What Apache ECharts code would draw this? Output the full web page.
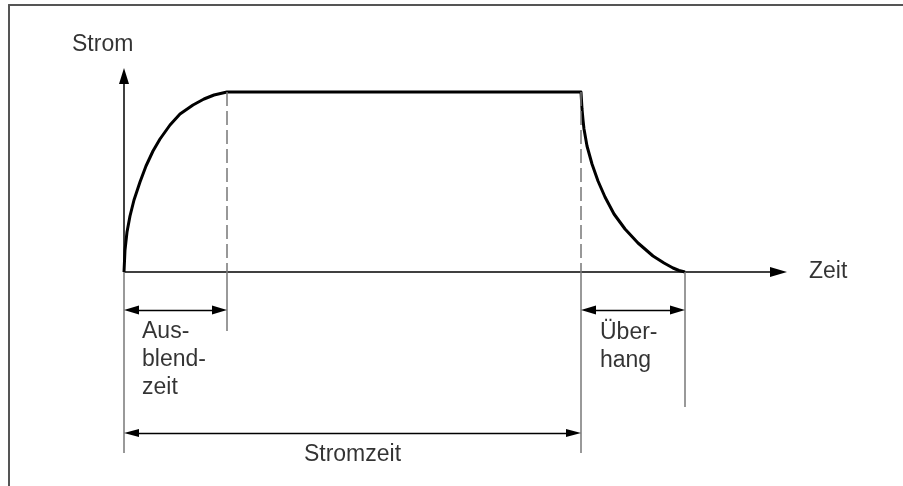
<!DOCTYPE html>
<html>
<head>
<meta charset="utf-8">
<script src="https://cdn.jsdelivr.net/npm/echarts@6/dist/echarts.min.js"></script>
<style>
  html, body { margin: 0; padding: 0; background: #fff; }
  #chart { width: 903px; height: 486px; }
</style>
</head>
<body>
<div id="chart"></div>
<script>
// time / current (schematic units)
var riseT = [0, 1, 3, 6, 10, 16, 22, 29, 36, 46, 56, 69, 80, 90, 103];
var riseI = [0, 22, 40, 56, 72, 90, 106, 121, 133, 147, 158, 167, 173, 177, 180];
var fallT = [457, 458, 459, 460, 463, 468, 474, 481, 490, 501, 514, 529, 540, 549, 555, 561];
var fallI = [180, 163, 152, 143, 126, 108, 91, 75, 58, 43, 29, 16, 9, 4, 1.5, 0];

// events on the time axis
var tStart = 0;
var tBlank = 103;   // Ausblendzeit end
var tOff = 457;     // Stromzeit end
var tEnd = 561;     // Überhang end
var iMax = 180;

var axisEndT = 663;
var axisEndI = 204;

var labelStrom = 'Strom';
var labelZeit = 'Zeit';
var labelBlank = 'Aus-\nblend-\nzeit';
var labelOver = 'Über-\nhang';
var labelTotal = 'Stromzeit';

var curve = [];
for (var i = 0; i < riseT.length; i++) curve.push([riseT[i], riseI[i]]);
for (var j = 0; j < fallT.length; j++) curve.push([fallT[j], fallI[j]]);

var AX = { color: '#000', width: 1.5, type: 'solid' };
var EXT = { color: '#777', width: 1.5, type: 'solid' };
var DASH = { color: '#777', width: 1.5, type: [14, 5] };
var DIM = { color: '#000', width: 1.3, type: 'solid' };
var head = 7.5; // half arrow head length

function seg(x1, y1, x2, y2, style, a1, a2, size) {
  return [
    { coord: [x1, y1], lineStyle: style, symbol: a1 ? 'triangle' : 'none', symbolSize: size || [9, 15] },
    { coord: [x2, y2], symbol: a2 ? 'triangle' : 'none', symbolSize: size || [9, 15] }
  ];
}

var lines = [
  // axes
  seg(tStart, 0, tStart, axisEndI - 8, AX, false, true, [10, 16]),
  seg(tStart, 0, axisEndT - 8.5, 0, AX, false, true, [10, 17]),
  // dashed guides
  seg(tBlank, iMax, tBlank, 0, DASH),
  seg(tOff, iMax, tOff, 0, DASH),
  // extension lines
  seg(tStart, 0, tStart, -181, EXT),
  seg(tBlank, 0, tBlank, -59, EXT),
  seg(tOff, 0, tOff, -181, EXT),
  seg(tEnd, 0, tEnd, -135, EXT),
  // dimension arrows
  seg(tStart + head, -38, tBlank - head, -38, DIM, true, true),
  seg(tOff + head, -38, tEnd - head, -38, DIM, true, true),
  seg(tStart + head, -161, tOff - head, -161, DIM, true, true, [8, 15])
];

var textStyle = {
  show: true,
  position: 'inside',
  formatter: '{b}',
  fontFamily: 'Liberation Sans, Arial, sans-serif',
  fontSize: 23,
  lineHeight: 28,
  color: '#000',
  verticalAlign: 'middle'
};

var myChart = echarts.init(document.getElementById('chart'));

var option = {
  animation: false,
  grid: { left: 9, top: 5, right: 0, bottom: 0 },
  xAxis: {
    type: 'value',
    position: 'top',
    min: -115,
    max: 779,
    axisLine: { show: true, onZero: false, lineStyle: { color: '#555', width: 2 } },
    axisTick: { show: false },
    axisLabel: { show: false },
    splitLine: { show: false }
  },
  yAxis: {
    type: 'value',
    position: 'left',
    min: -214,
    max: 267,
    axisLine: { show: true, onZero: false, lineStyle: { color: '#555', width: 2 } },
    axisTick: { show: false },
    axisLabel: { show: false },
    splitLine: { show: false }
  },
  series: [
    {
      type: 'line',
      data: curve,
      showSymbol: false,
      symbol: 'none',
      smooth: false,
      lineStyle: { color: '#000', width: 3, join: 'round' },
      silent: true,
      markLine: {
        silent: true,
        symbol: ['none', 'none'],
        label: { show: false },
        emphasis: { disabled: true },
        data: lines
      }
    },
    {
      type: 'scatter',
      symbolSize: 0,
      silent: true,
      data: [
        { name: labelStrom, value: [-52, 227], label: { align: 'left' } },
        { name: labelZeit, value: [685, 0], label: { align: 'left' } },
        { name: labelBlank, value: [18, -88], label: { align: 'left' } },
        { name: labelOver, value: [476, -75], label: { align: 'left' } },
        { name: labelTotal, value: [(tStart + tOff) / 2, -183], label: { align: 'center' } }
      ],
      label: textStyle
    }
  ]
};

myChart.setOption(option);
</script>
</body>
</html>
